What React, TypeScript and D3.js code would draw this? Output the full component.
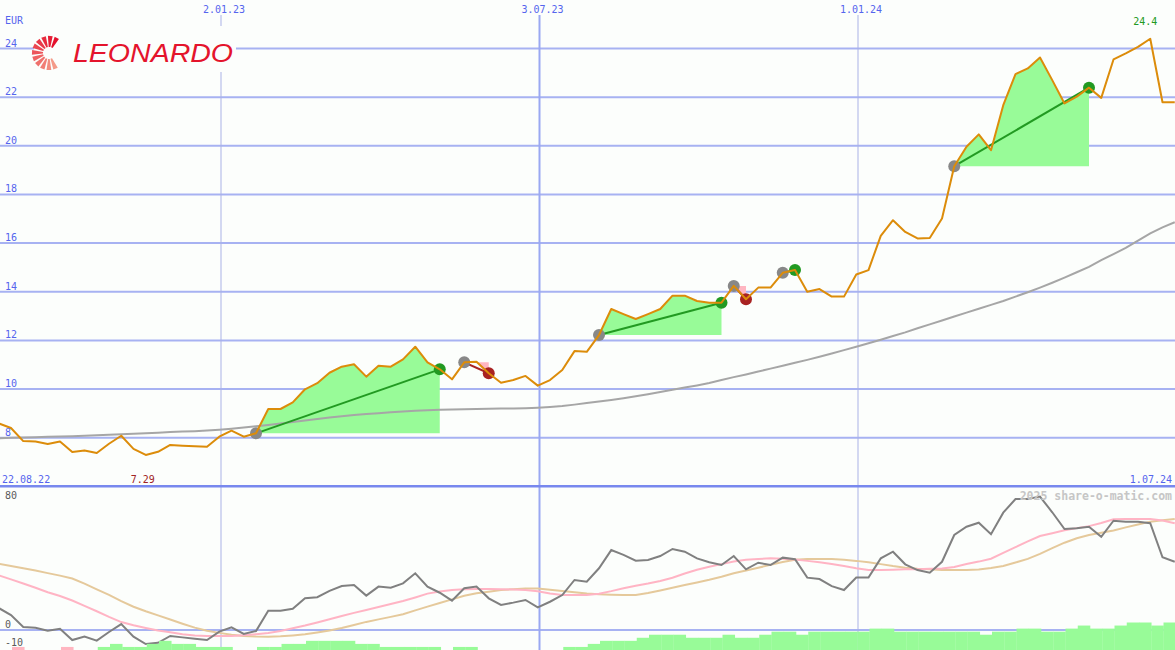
import React from "react";
import * as d3 from "d3";

const W = 1175;
const H = 650;
const START = new Date(2022, 7, 28);

// weekly close (EUR)
const price = [
  8.59, 8.40, 7.86, 7.84, 7.74, 7.84, 7.41, 7.47, 7.37, 7.75,
  8.08, 7.54, 7.29, 7.42, 7.70, 7.67, 7.65, 7.63, 8.04, 8.29,
  8.04, 8.18, 9.18, 9.18, 9.45, 9.99, 10.24, 10.67, 10.92, 11.02,
  10.51, 10.96, 10.92, 11.22, 11.74, 11.10, 10.81, 10.40, 11.10, 11.12,
  10.65, 10.26, 10.37, 10.54, 10.14, 10.37, 10.78, 11.56, 11.53, 12.22,
  13.29, 13.08, 12.88, 13.08, 13.29, 13.84, 13.84, 13.62, 13.55, 13.55,
  14.24, 13.69, 14.17, 14.17, 14.78, 14.89, 14.00, 14.11, 13.80, 13.80,
  14.71, 14.89, 16.30, 16.94, 16.46, 16.19, 16.21, 17.01, 19.16, 19.96,
  20.47, 19.82, 21.67, 22.95, 23.18, 23.63, 22.70, 21.74, 22.02, 22.39,
  21.97, 23.55, 23.80, 24.07, 24.40, 21.79, 21.79,
];

// long moving average
const movingAvg = [
  7.98, 8.00, 8.01, 8.02, 8.04, 8.05, 8.06, 8.08, 8.10, 8.12,
  8.14, 8.16, 8.18, 8.20, 8.23, 8.25, 8.27, 8.30, 8.33, 8.37,
  8.42, 8.47, 8.52, 8.58, 8.65, 8.71, 8.77, 8.83, 8.88, 8.93,
  8.97, 9.01, 9.05, 9.08, 9.11, 9.13, 9.15, 9.16, 9.17, 9.18,
  9.19, 9.20, 9.20, 9.21, 9.23, 9.26, 9.30, 9.36, 9.43, 9.49,
  9.55, 9.62, 9.70, 9.79, 9.88, 9.97, 10.06, 10.15, 10.25, 10.37,
  10.49, 10.60, 10.72, 10.84, 10.96, 11.08, 11.20, 11.33, 11.46, 11.60,
  11.74, 11.88, 12.03, 12.18, 12.33, 12.50, 12.66, 12.82, 12.98, 13.14,
  13.30, 13.46, 13.62, 13.80, 13.98, 14.17, 14.37, 14.58, 14.80, 15.02,
  15.30, 15.55, 15.80, 16.10, 16.40, 16.65, 16.86,
];

// lower panel oscillator
const oscillator = [
  12.2, 8.3, 1.7, 1.3, -0.4, 0.7, -5.6, -3.7, -5.9, -1.1,
  3.3, -3.7, -7.8, -7.1, -3.3, -4.1, -4.8, -5.6, -0.9, 1.5,
  -2.2, -0.6, 10.7, 10.7, 11.8, 17.6, 18.2, 21.7, 24.4, 25.0,
  19.1, 24.1, 23.5, 25.9, 31.5, 24.1, 20.7, 16.3, 23.2, 24.1,
  17.6, 13.9, 15.2, 16.7, 12.6, 15.7, 19.4, 27.8, 26.8, 34.3,
  44.4, 41.7, 38.5, 38.9, 41.1, 45.0, 43.5, 39.8, 37.6, 36.1,
  41.1, 33.7, 37.4, 36.1, 40.2, 39.3, 29.1, 28.3, 24.4, 22.2,
  29.1, 29.1, 39.8, 43.5, 36.5, 33.3, 31.8, 37.9, 52.8, 57.4,
  59.6, 53.2, 65.2, 72.8, 72.8, 74.1, 65.4, 56.1, 56.5, 57.4,
  51.8, 60.7, 60.2, 60.2, 59.3, 40.4, 37.9,
];

const oscFast = [
  30.4, 28.1, 25.8, 23.5, 21.0, 18.9, 16.4, 13.4, 10.4, 7.3,
  4.4, 2.6, 1.1, -0.3, -1.3, -2.3, -3.0, -3.3, -3.4, -3.3,
  -2.9, -2.3, -1.7, -0.5, 1.0, 2.5, 4.2, 6.0, 7.8, 9.5,
  11.1, 12.8, 14.4, 16.1, 18.1, 20.2, 21.4, 22.2, 22.7, 22.8,
  22.8, 22.7, 22.5, 22.2, 21.5, 20.3, 19.4, 19.4, 19.4, 20.2,
  21.6, 23.2, 24.6, 25.8, 27.2, 29.0, 31.4, 33.5, 35.1, 36.6,
  38.0, 39.0, 39.5, 39.8, 39.6, 39.2, 38.4, 37.6, 36.7, 35.5,
  34.3, 33.4, 33.3, 33.5, 33.7, 33.8, 34.0, 34.2, 35.0, 36.7,
  38.0, 39.6, 42.8, 46.0, 49.2, 52.2, 53.8, 55.4, 56.6, 57.7,
  59.4, 61.5, 61.6, 61.7, 61.7, 60.8, 59.3,
];

const oscSlow = [
  36.8, 35.6, 34.3, 33.0, 31.6, 30.2, 28.6, 25.8, 22.6, 19.5,
  16.0, 12.9, 10.4, 8.1, 5.8, 3.5, 1.3, -0.4, -1.6, -2.7,
  -3.3, -3.6, -3.7, -3.5, -3.0, -2.4, -1.4, -0.3, 1.1, 2.8,
  4.5, 5.9, 7.3, 8.8, 10.9, 13.0, 15.0, 17.0, 19.0, 20.4,
  21.3, 22.2, 22.7, 23.0, 23.0, 22.4, 21.7, 21.0, 20.3, 19.8,
  19.6, 19.5, 19.5, 20.5, 22.0, 23.5, 25.0, 26.4, 27.9, 29.6,
  31.5, 33.0, 34.6, 36.2, 37.8, 39.0, 39.4, 39.4, 39.4, 39.0,
  38.4, 37.6, 36.6, 35.5, 34.6, 34.0, 33.7, 33.4, 33.3, 33.3,
  33.6, 34.5, 35.6, 37.5, 39.5, 42.3, 45.5, 48.5, 51.0, 52.8,
  54.0, 55.3, 57.0, 58.6, 60.2, 61.0, 61.7,
];

// histogram step levels (negative = pink)
const barLevel = [
  0, -1, 0, 0, 0, -1, 0, 0, 1, 2,
  1, 1, 2, 3, 2, 2, 1, 1, 1, 0,
  0, 1, 1, 2, 2, 3, 3, 3, 3, 2,
  2, 1, 1, 1, 1, 1, 0, 1, 1, 0,
  0, 0, 0, 0, 0, 0, 1, 1, 2, 3,
  3, 3, 4, 5, 5, 5, 4, 4, 4, 5,
  4, 4, 5, 6, 6, 5, 6, 6, 6, 6,
  6, 7, 7, 6, 6, 6, 6, 6, 6, 6,
  5, 6, 6, 7, 7, 6, 6, 7, 8, 7,
  7, 8, 9, 9, 8, 9, 9,
];

// trade signals: entry / exit week index
const tradeStart = [21, 38, 49, 60, 64, 78];
const tradeEnd = [36, 40, 59, 61, 65, 89];

const yTicks = [8, 10, 12, 14, 16, 18, 20, 22, 24];
const xTickDates = [new Date(2023, 0, 2), new Date(2023, 6, 3), new Date(2024, 0, 1)];
const xTickLabels = ["2.01.23", "3.07.23", "1.01.24"];
const lowTicks = [80, 0, -10];
const firstLabel = "22.08.22";
const lastLabel = "1.07.24";

const BG = "#fcfefc";
const BLUE_TXT = "#5565ee";
const GRID = "#a7b2f2";
const MONO = "'DejaVu Sans Mono', monospace";

export default function App() {
  const dates = price.map((_, i) => d3.timeDay.offset(START, 7 * i));
  const x = d3.scaleTime().domain([new Date(2023, 0, 2), new Date(2024, 0, 1)]).range([221, 858]);
  const y = d3.scaleLinear().domain([8, 24]).range([437.7, 48.5]);
  const yl = d3.scaleLinear().domain([-10, 80]).range([648, 486]);
  const yb = d3.scaleLinear().domain([0, 9]).range([650, 622.5]);

  const px = (i: number) => x(dates[i]);
  const mainLine = (arr: number[]) =>
    d3.line<number>().x((_, i) => px(i)).y((d) => y(d))(arr) || "";
  const lowLine = (arr: number[]) =>
    d3.line<number>().x((_, i) => px(i)).y((d) => yl(d))(arr) || "";

  const step = px(1) - px(0);
  const minI = price.indexOf(d3.min(price) as number);
  const maxI = price.indexOf(d3.max(price) as number);

  const trades = tradeStart.map((s, k) => {
    const e = tradeEnd[k];
    const idx = d3.range(s, e + 1);
    const base = y(price[s]);
    const gain = price[e] >= price[s];
    const area = d3
      .area<number>()
      .x((i) => px(i))
      .y0(base)
      .y1((i) => y(price[i]))(idx) || "";
    return { s, e, gain, area };
  });

  // logo blades
  const cx = 49, cy = 53;
  const blades = d3.range(11).map((k) => {
    const a = ((-62 - k * 23) * Math.PI) / 180;
    const r1 = 6, r2 = 17;
    const nx = -Math.sin(a), ny = Math.cos(a);
    const p = (r: number, w: number) => [cx + Math.cos(a) * r + nx * w, cy + Math.sin(a) * r + ny * w];
    const pts = [p(r1, -0.8), p(r2, -2.6), p(r2, 2.2), p(r1, 0.8)];
    const col = d3.interpolateRgb("#e4102c", "#f49a88")(k / 10);
    return { d: "M" + pts.map((q) => q.join(",")).join("L") + "Z", col };
  });

  return (
    <svg
      width={W}
      height={H}
      style={{ position: "absolute", left: 0, top: 0, display: "block", background: BG }}
      fontFamily={MONO}
    >
      <rect x={0} y={0} width={W} height={H} fill={BG} />

      {/* horizontal grid */}
      {yTicks.map((t) => (
        <line key={t} x1={0} x2={W} y1={y(t)} y2={y(t)} stroke={GRID} strokeWidth={2} />
      ))}
      {/* lower zero line */}
      <line x1={0} x2={W} y1={yl(0)} y2={yl(0)} stroke={GRID} strokeWidth={2} />

      {/* vertical grid */}
      {xTickDates.map((d, i) => (
        <line
          key={i}
          x1={x(d)}
          x2={x(d)}
          y1={15}
          y2={H}
          stroke={i === 1 ? "#9aa8f2" : "#aab2e6"}
          strokeWidth={i === 1 ? 2 : 1}
        />
      ))}

      {/* panel separator */}
      <line x1={0} x2={W} y1={y(6)} y2={y(6)} stroke="#7888ee" strokeWidth={2.5} />

      {/* trade fills */}
      {trades.map((t, k) => (
        <path key={k} d={t.area} fill={t.gain ? "#98fb98" : "#ffb6c1"} stroke="none" />
      ))}

      {/* moving average */}
      <path d={mainLine(movingAvg)} fill="none" stroke="#a6a6a6" strokeWidth={2} />

      {/* trade lines and markers */}
      {trades.map((t, k) => (
        <g key={k}>
          <line
            x1={px(t.s)}
            y1={y(price[t.s])}
            x2={px(t.e)}
            y2={y(price[t.e])}
            stroke={t.gain ? "#229a22" : "#a82222"}
            strokeWidth={2}
          />
          <circle cx={px(t.s)} cy={y(price[t.s])} r={6} fill="#888888" />
          <circle cx={px(t.e)} cy={y(price[t.e])} r={6} fill={t.gain ? "#229a22" : "#a82222"} />
        </g>
      ))}

      {/* price */}
      <path d={mainLine(price)} fill="none" stroke="#dc8c0a" strokeWidth={2} strokeLinejoin="round" />

      {/* lower panel lines */}
      <path d={lowLine(oscSlow)} fill="none" stroke="#e5c99b" strokeWidth={2} />
      <path d={lowLine(oscFast)} fill="none" stroke="#ffb4c4" strokeWidth={2} />
      <path d={lowLine(oscillator)} fill="none" stroke="#808080" strokeWidth={2} />

      {/* histogram */}
      {barLevel.map((v, i) =>
        v === 0 ? null : (
          <rect
            key={i}
            x={px(i) + 1}
            y={yb(Math.abs(v))}
            width={step + 0.3}
            height={650 - yb(Math.abs(v))}
            fill={v > 0 ? "#98fb98" : "#ffb6c1"}
          />
        )
      )}

      {/* text labels */}
      <text x={5} y={24} fontSize={10} fill={BLUE_TXT}>EUR</text>
      {yTicks.map((t) => (
        <text key={t} x={5} y={y(t) - 2} fontSize={10} fill={BLUE_TXT}>
          {t}
        </text>
      ))}
      {xTickDates.map((d, i) => (
        <text key={i} x={x(d) + 3} y={12.5} fontSize={10} fill={BLUE_TXT} textAnchor="middle">
          {xTickLabels[i]}
        </text>
      ))}
      <text x={2} y={482.5} fontSize={10} fill={BLUE_TXT}>{firstLabel}</text>
      <text x={1172} y={482.5} fontSize={10} fill={BLUE_TXT} textAnchor="end">{lastLabel}</text>
      <text x={px(minI) - 3} y={482.5} fontSize={10} fill="#a02424" textAnchor="middle">
        {d3.format(".2f")(price[minI])}
      </text>
      <text x={px(maxI) - 5} y={25} fontSize={10} fill="#229a22" textAnchor="middle">
        {d3.format(".1f")(price[maxI])}
      </text>
      {lowTicks.map((t) => (
        <text key={t} x={5} y={t === 80 ? 499 : yl(t) - 2.3} fontSize={10} fill="#5a5a5a">
          {t}
        </text>
      ))}
      <text
        x={1172}
        y={500}
        fontSize={11.5}
        fontWeight="bold"
        fill="#c6c6c6"
        textAnchor="end"
      >
        2025 share-o-matic.com
      </text>

      {/* logo */}
      <rect x={34} y={26} width={202} height={46} fill={BG} />
      {blades.map((b, i) => (
        <path key={i} d={b.d} fill={b.col} />
      ))}
      <text
        x={73}
        y={61.5}
        fontSize={26}
        fontStyle="italic"
        fontFamily="'Liberation Sans', Arial, sans-serif"
        fill="#e4142c"
        textLength={160}
        lengthAdjust="spacingAndGlyphs"
      >
        LEONARDO
      </text>
    </svg>
  );
}
